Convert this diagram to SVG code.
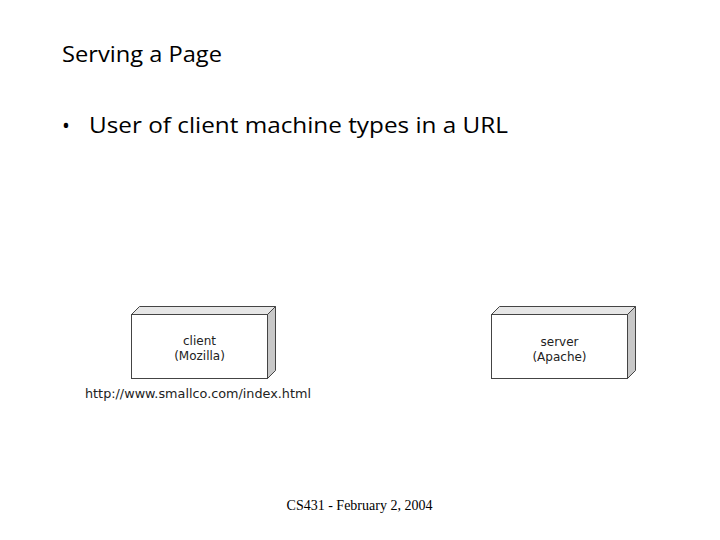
<svg xmlns="http://www.w3.org/2000/svg" width="720" height="540" viewBox="0 0 720 540">
<style>
.slide{font-family:"Open Sans","DejaVu Sans",sans-serif;fill:#000}
.lbl{font-family:"DejaVu Sans","Liberation Sans",sans-serif;font-size:12px;fill:#222;text-anchor:middle}
.url{font-family:"DejaVu Sans","Liberation Sans",sans-serif;font-size:11.5px;fill:#222}
.front{fill:#fff;stroke:#444;stroke-width:1}
.top{fill:#e6e6e6;stroke:#444;stroke-width:1}
.side{fill:#c8c8c8;stroke:#444;stroke-width:1}
.foot{font-family:"Liberation Serif","Times New Roman",serif;font-size:14px;fill:#000;text-anchor:middle}
</style>
<rect width="720" height="540" fill="#fff"/>
<text class="slide" x="62" y="62" font-size="21" textLength="160" lengthAdjust="spacingAndGlyphs">Serving a Page</text>
<text class="slide" x="62" y="133" font-size="21">•</text>
<text class="slide" x="89" y="133" font-size="21" textLength="419" lengthAdjust="spacingAndGlyphs">User of client machine types in a URL</text>
<g id="client">
<polygon class="top" points="131.5,314.5 139.5,306.5 275.5,306.5 267.5,314.5"/>
<polygon class="side" points="267.5,314.5 275.5,306.5 275.5,370.5 267.5,378.5"/>
<rect class="front" x="131.5" y="314.5" width="136" height="64"/>
<text class="lbl" x="199.5" y="345">client</text>
<text class="lbl" x="199.5" y="360">(Mozilla)</text>
</g>
<g id="server">
<polygon class="top" points="491.5,314.5 499.5,306.5 635.5,306.5 627.5,314.5"/>
<polygon class="side" points="627.5,314.5 635.5,306.5 635.5,370.5 627.5,378.5"/>
<rect class="front" x="491.5" y="314.5" width="136" height="64"/>
<text class="lbl" x="559.5" y="346">server</text>
<text class="lbl" x="559.5" y="361">(Apache)</text>
</g>
<g id="connectors"></g>
<text class="url" x="85" y="398" textLength="226" lengthAdjust="spacingAndGlyphs">http://www.smallco.com/index.html</text>
<text class="foot" x="359.5" y="510">CS431 - February 2, 2004</text>
</svg>
